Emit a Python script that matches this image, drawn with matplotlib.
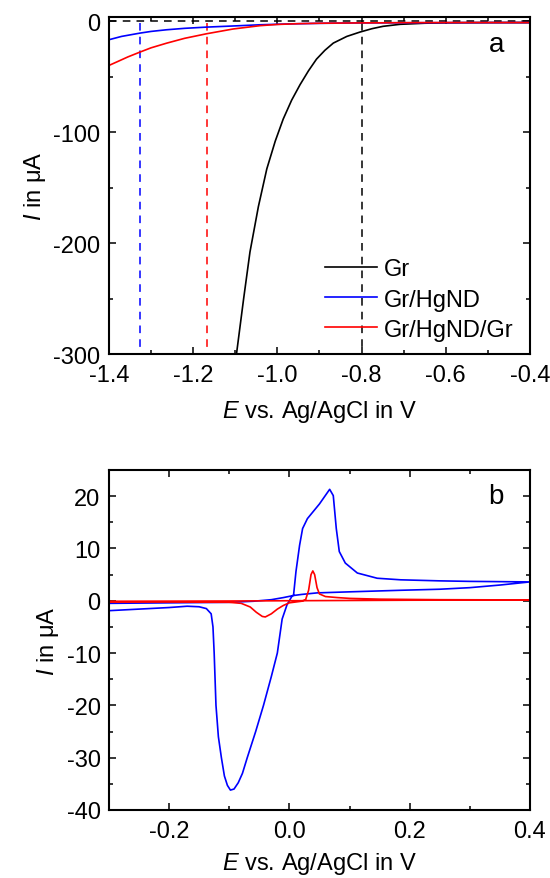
import numpy as np
import matplotlib.pyplot as plt
from matplotlib.ticker import MultipleLocator

plt.rcParams['font.family'] = ['Liberation Sans', 'DejaVu Sans']
plt.rcParams['mathtext.fontset'] = 'custom'
plt.rcParams['mathtext.it'] = 'Liberation Sans:italic'
plt.rcParams['mathtext.rm'] = 'Liberation Sans'
plt.rcParams['axes.unicode_minus'] = False

# panel a: linear sweeps
gr_E = [-1.097, -1.08, -1.065, -1.045, -1.025, -1.005, -0.986, -0.966, -0.946, -0.926,
        -0.907, -0.887, -0.867, -0.835, -0.804, -0.775, -0.749, -0.709, -0.65, -0.6, -0.5, -0.4]
gr_I = [-300, -250, -208, -167, -133, -108, -88, -71, -57, -44.5,
        -34, -26, -19.5, -13.5, -9.6, -6.5, -4.4, -2.6, -1.6, -1.2, -1.0, -1.0]

hg_E = [-1.4, -1.37, -1.326, -1.3, -1.263, -1.22, -1.168, -1.1, -1.041, -0.97, -0.9, -0.8, -0.7, -0.6, -0.4]
hg_I = [-16.5, -13.5, -10.5, -9, -7.5, -6.2, -5.1, -4, -3, -2.2, -1.7, -1.3, -1.2, -1.1, -1.0]

hggr_E = [-1.4, -1.38, -1.355, -1.326, -1.3, -1.263, -1.22, -1.168, -1.105, -1.041, -1.0, -0.95, -0.9,
          -0.8, -0.7, -0.6, -0.4]
hggr_I = [-39.7, -36.3, -32, -27.6, -23.8, -19.6, -15.2, -11.1, -6.8, -3.8, -2.7, -2.0, -1.6,
          -1.3, -1.1, -1.0, -1.0]

onset_E = [-0.80, -1.326, -1.167]
colors = ['black', '#0000ff', '#ff0000']
labels = ['Gr', 'Gr/HgND', 'Gr/HgND/Gr']

# panel b: cyclic voltammograms
cv_hg_E = [-0.3, -0.25, -0.2, -0.17, -0.15, -0.138, -0.13, -0.127, -0.125, -0.122, -0.118,
           -0.113, -0.108, -0.103, -0.098, -0.092, -0.085, -0.078, -0.07, -0.056, -0.043,
           -0.03, -0.02, -0.012, -0.004, 0.004, 0.007, 0.011, 0.017, 0.022, 0.03, 0.05,
           0.067, 0.073, 0.078, 0.083, 0.093, 0.113, 0.146, 0.185, 0.25, 0.3, 0.4,
           0.35, 0.3, 0.25, 0.185, 0.1, 0.046, 0.02, 0.007, -0.01, -0.03, -0.06, -0.1, -0.2, -0.3]
cv_hg_I = [-1.9, -1.6, -1.3, -1.05, -1.15, -1.5, -2.5, -5, -10, -20, -26,
           -30, -33.5, -35.3, -36.2, -36, -34.8, -33, -30, -25, -20,
           -14.5, -10, -3.5, -0.8, 0.8, 1.1, 5.6, 10.6, 13.8, 15.7, 18.5,
           21.3, 20.1, 13.8, 9.4, 7.2, 5.3, 4.3, 4.0, 3.8, 3.7, 3.6,
           3.0, 2.5, 2.2, 2.0, 1.7, 1.5, 1.2, 1.0, 0.6, 0.2, -0.1, -0.3, -0.4, -0.5]

cv_hggr_E = [-0.3, -0.2, -0.1, -0.08, -0.065, -0.055, -0.045, -0.04, -0.03, -0.02, -0.01,
             0.0, 0.02, 0.027, 0.032, 0.036, 0.039, 0.042, 0.046, 0.05, 0.06, 0.08, 0.1,
             0.15, 0.25, 0.4, 0.2, 0.0, -0.1, -0.3]
cv_hggr_I = [-0.25, -0.25, -0.3, -0.5, -1.2, -2.2, -3.0, -3.1, -2.5, -1.6, -0.9,
             -0.4, -0.1, 0.2, 2.0, 5.0, 5.7, 5.0, 2.5, 1.3, 0.8, 0.6, 0.45,
             0.3, 0.2, 0.15, 0.1, 0.0, -0.05, -0.1]

fig = plt.figure(figsize=(5.5, 8.79), dpi=100)
ax1 = fig.add_axes([0.198, 0.5961, 0.7656, 0.3834])
ax2 = fig.add_axes([0.198, 0.0774, 0.7656, 0.3868])

dash = (0, (5, 4))
fs = 17

ax1.axhline(0, color='black', lw=1.1, linestyle=dash)
for e, c in zip(onset_E, colors):
    ax1.plot([e, e], [-1.5, -300], color=c, lw=1.1, linestyle=dash)
ax1.plot(gr_E, gr_I, color=colors[0], lw=1.2, label=labels[0])
ax1.plot(hg_E, hg_I, color=colors[1], lw=1.2, label=labels[1])
ax1.plot(hggr_E, hggr_I, color=colors[2], lw=1.2, label=labels[2])
ax1.set_xlim(-1.4, -0.4)
ax1.set_ylim(-300, 4)
ax1.xaxis.set_major_locator(MultipleLocator(0.2))
ax1.xaxis.set_minor_locator(MultipleLocator(0.1))
ax1.yaxis.set_major_locator(MultipleLocator(100))
ax1.yaxis.set_minor_locator(MultipleLocator(50))
ax1.legend(loc='lower left', frameon=False, fontsize=fs, handlelength=2.2,
           handletextpad=0.3, labelspacing=0.34, borderpad=0, borderaxespad=0,
           bbox_to_anchor=(0.513, 0.04))
ax1.text(0.92, 0.92, 'a', transform=ax1.transAxes, fontsize=20, ha='center', va='center')

ax2.plot(cv_hg_E, cv_hg_I, color=colors[1], lw=1.2)
ax2.plot(cv_hggr_E, cv_hggr_I, color=colors[2], lw=1.2)
ax2.set_xlim(-0.3, 0.4)
ax2.set_ylim(-40, 25)
ax2.xaxis.set_major_locator(MultipleLocator(0.2))
ax2.xaxis.set_minor_locator(MultipleLocator(0.1))
ax2.yaxis.set_major_locator(MultipleLocator(10))
ax2.yaxis.set_minor_locator(MultipleLocator(5))
ax2.text(0.92, 0.924, 'b', transform=ax2.transAxes, fontsize=20, ha='center', va='center')

for ax, lp in ((ax1, 9), (ax2, 6)):
    for s in ax.spines.values():
        s.set_linewidth(1.5)
    ax.tick_params(which='both', direction='in', top=True, right=True, width=1.1,
                   labelsize=fs)
    ax.tick_params(axis='x', pad=7)
    ax.tick_params(axis='y', pad=6)
    ax.tick_params(which='major', length=5)
    ax.tick_params(which='minor', length=3)
    ax.set_xlabel(r'$\mathit{E}$ vs. Ag/AgCl in V', fontsize=fs, labelpad=lp)
    ax.set_ylabel(r'$\mathit{I}$ in μA', fontsize=fs, labelpad=4)
    ax.xaxis.set_major_formatter(plt.FuncFormatter(lambda v, p: f'{v:.1f}'))

fig.savefig('out.png', dpi=100)
